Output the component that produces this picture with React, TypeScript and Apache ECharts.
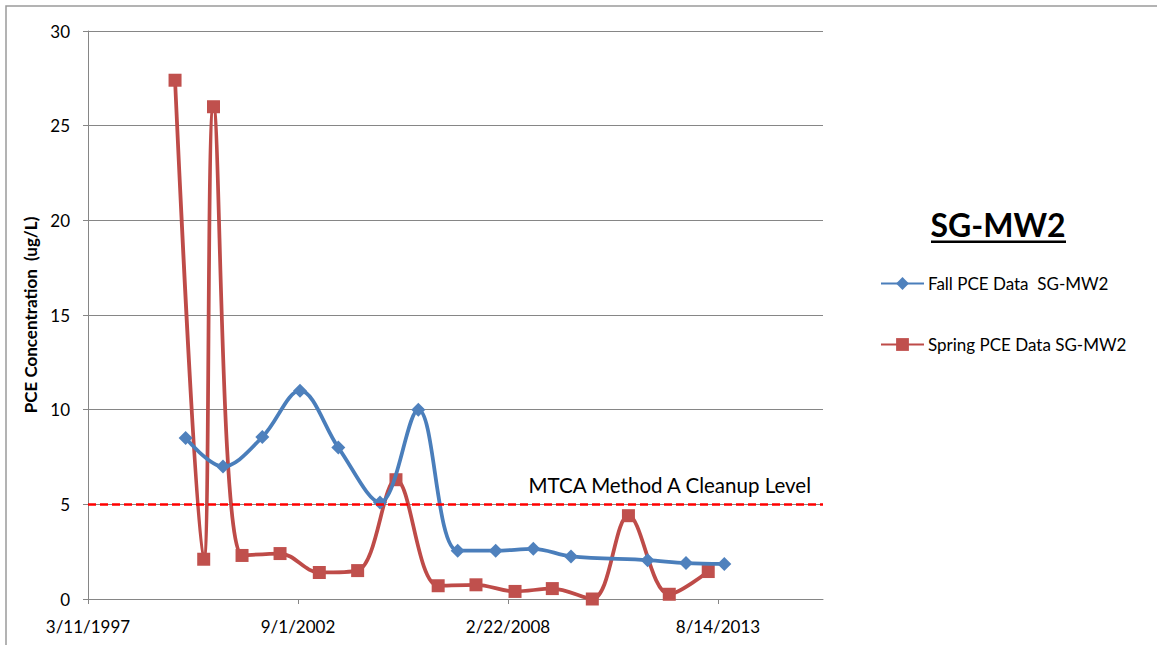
import React, { useEffect, useRef } from "react";
import * as echarts from "echarts";

// Axis origin date (first x tick) and tick step in days
const AXIS_START = "1997-03-11";
const X_TICKS_DAYS = [0, 2000, 4000, 6000];
const X_MAX_DAYS = 7000;
const Y_TICKS = [0, 5, 10, 15, 20, 25, 30];

const fallDates = [
  "1999-09-27", "2000-09-17", "2001-09-26", "2002-09-20", "2003-09-20",
  "2004-10-21", "2005-10-21", "2006-10-31", "2007-10-28", "2008-10-20",
  "2009-10-14", "2011-10-14", "2012-10-13", "2013-10-13",
];
const fallValues = [8.5, 7.0, 8.55, 11.0, 8.0, 5.1, 10.0, 2.55, 2.55, 2.65, 2.25, 2.05, 1.9, 1.85];

const springDates = [
  "1999-06-18", "2000-03-17", "2000-06-18", "2001-03-17", "2002-03-14",
  "2003-03-23", "2004-03-22", "2005-03-22", "2006-04-28", "2007-04-23",
  "2008-04-29", "2009-04-19", "2010-05-05", "2011-04-14", "2012-05-07",
  "2013-05-13",
];
const springValues = [27.4, 2.1, 26.0, 2.3, 2.4, 1.4, 1.5, 6.3, 0.7, 0.75, 0.4, 0.55, 0, 4.4, 0.25, 1.45];

const CLEANUP_LEVEL = 5;
const CLEANUP_LABEL = "MTCA Method A Cleanup Level";
const TITLE = "SG-MW2";
const FALL_NAME = "Fall PCE Data  SG-MW2";
const SPRING_NAME = "Spring PCE Data SG-MW2";
const Y_NAME = "PCE Concentration  (ug/L)";

const DAY_MS = 86400000;
const parseUTC = (s: string) => {
  const [y, m, d] = s.split("-").map(Number);
  return Date.UTC(y, m - 1, d);
};
const START_MS = parseUTC(AXIS_START);
const toDays = (s: string) => Math.round((parseUTC(s) - START_MS) / DAY_MS);
const fmtDay = (d: number) => {
  const dt = new Date(START_MS + d * DAY_MS);
  return `${dt.getUTCMonth() + 1}/${dt.getUTCDate()}/${dt.getUTCFullYear()}`;
};

const FONT = "Lato, 'Open Sans', sans-serif";

export default function App() {
  const ref = useRef<HTMLDivElement>(null);
  useEffect(() => {
    if (!ref.current) return;
    const chart = echarts.init(ref.current, undefined, { renderer: "svg" });
    const fallData = fallDates.map((d, i) => [toDays(d), fallValues[i]]);
    const springData = springDates.map((d, i) => [toDays(d), springValues[i]]);
    chart.setOption({
      animation: false,
      backgroundColor: "#ffffff",
      textStyle: { fontFamily: FONT },
      grid: { left: 88, top: 31, right: 334, bottom: 46, containLabel: false },
      xAxis: {
        type: "value",
        min: 0,
        max: X_MAX_DAYS,
        interval: 2000,
        splitLine: { show: false },
        axisLine: { show: true, lineStyle: { color: "#868686", width: 1 } },
        axisTick: { show: true, length: 5, lineStyle: { color: "#868686" }, customValues: X_TICKS_DAYS },
        axisLabel: {
          customValues: X_TICKS_DAYS,
          formatter: (v: number) => fmtDay(v),
          fontSize: 17,
          color: "#000",
          margin: 19,
          fontFamily: FONT,
        },
      },
      yAxis: {
        type: "value",
        min: Y_TICKS[0],
        max: Y_TICKS[Y_TICKS.length - 1],
        interval: 5,
        name: Y_NAME,
        nameLocation: "middle",
        nameGap: 47,
        nameTextStyle: { fontSize: 17, fontWeight: "bold", color: "#000", fontFamily: FONT },
        splitLine: { show: true, lineStyle: { color: "#868686", width: 1 } },
        axisLine: { show: true, lineStyle: { color: "#868686", width: 1 } },
        axisTick: { show: true, length: 5, lineStyle: { color: "#868686" } },
        axisLabel: { fontSize: 17, color: "#000", margin: 18, fontFamily: FONT },
      },
      legend: {
        orient: "vertical",
        left: 880,
        top: 275,
        padding: 0,
        itemWidth: 43,
        itemHeight: 16,
        itemGap: 44,
        textStyle: { fontSize: 17, color: "#000", lineHeight: 16, fontFamily: FONT, padding: [0, 0, 0, -1] },
        data: [FALL_NAME, SPRING_NAME],
      },
      graphic: [
        {
          type: "rect",
          shape: { x: 6, y: 6, width: 1300, height: 800 },
          style: { fill: "none", stroke: "#9a9a9a", lineWidth: 1.5 },
          silent: true,
        },
        {
          type: "text",
          x: 998,
          y: 224,
          style: {
            text: TITLE,
            fontSize: 32,
            fontWeight: "bold",
            fontFamily: FONT,
            fill: "#000",
            textAlign: "center",
            textVerticalAlign: "middle",
          },
        },
        {
          type: "rect",
          shape: { x: 931, y: 240.5, width: 135, height: 2.5 },
          style: { fill: "#000" },
        },
      ],
      series: [
        {
          name: FALL_NAME,
          type: "line",
          data: fallData,
          smooth: 0.35,
          clip: false,
          symbol: "diamond",
          symbolSize: 14,
          lineStyle: { color: "#4A7EBB", width: 3.75 },
          itemStyle: { color: "#4F81BD" },
          z: 3,
          markLine: {
            silent: true,
            symbol: "none",
            lineStyle: { color: "#FF0000", width: 2.5, type: [8, 4] },
            label: {
              show: true,
              position: "insideEndTop",
              formatter: CLEANUP_LABEL,
              fontSize: 20.5,
              color: "#000",
              fontFamily: FONT,
              distance: [12, 9],
            },
            data: [{ yAxis: CLEANUP_LEVEL }],
          },
        },
        {
          name: SPRING_NAME,
          type: "line",
          data: springData,
          smooth: 0.35,
          clip: false,
          symbol: "rect",
          symbolSize: 13,
          lineStyle: { color: "#BE4B48", width: 3.75 },
          itemStyle: { color: "#C0504D" },
          z: 2,
        },
      ],
    });
    return () => chart.dispose();
  }, []);
  return (
    <div
      ref={ref}
      style={{ position: "fixed", left: 0, top: 0, width: 1157, height: 645 }}
    />
  );
}
